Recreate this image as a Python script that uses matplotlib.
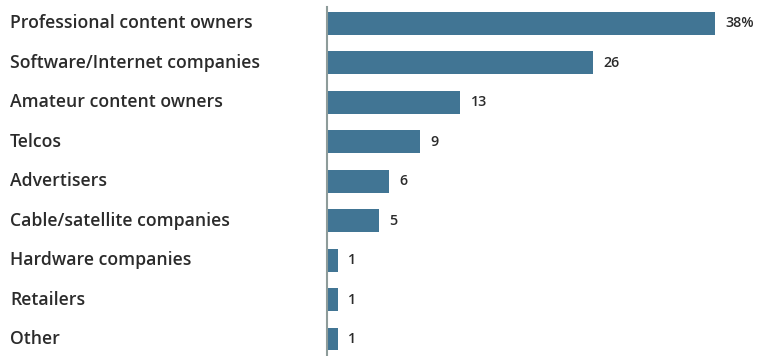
import matplotlib
matplotlib.use("Agg")
import matplotlib.pyplot as plt

categories = [
    "Professional content owners",
    "Software/Internet companies",
    "Amateur content owners",
    "Telcos",
    "Advertisers",
    "Cable/satellite companies",
    "Hardware companies",
    "Retailers",
    "Other",
]
values = [38, 26, 13, 9, 6, 5, 1, 1, 1]
value_labels = ["38%", "26", "13", "9", "6", "5", "1", "1", "1"]

W, H = 757, 356
fig = plt.figure(figsize=(W / 100, H / 100), dpi=100)
ax = fig.add_axes([327 / W, 0, (W - 327) / W, 1 - 7 / H])

bar_color = "#417594"
text_color = "#2b2b2b"
pos = list(range(len(categories)))

ax.barh(pos, values, height=0.583, color=bar_color, left=0)
ax.set_ylim(8.431, -0.418)
ax.set_xlim(-0.1, 42.1)

for p, v, lab in zip(pos, values, value_labels):
    ax.text(v + 1.0, p, lab, va="center", ha="left", fontsize=10.3,
            fontweight="semibold", color=text_color, family="Open Sans")

for p, c in zip(pos, categories):
    fig.text(10 / W, 1 - (23.5 + p * 39.44) / H, c, va="center", ha="left",
             fontsize=12.7, color=text_color, family="Open Sans",
             fontweight="semibold")

for s in ["top", "right", "bottom"]:
    ax.spines[s].set_visible(False)
ax.spines["left"].set_color("#8e9c9a")
ax.spines["left"].set_linewidth(1.5)
ax.set_xticks([])
ax.set_yticks([])

fig.savefig("out.png", dpi=100)
